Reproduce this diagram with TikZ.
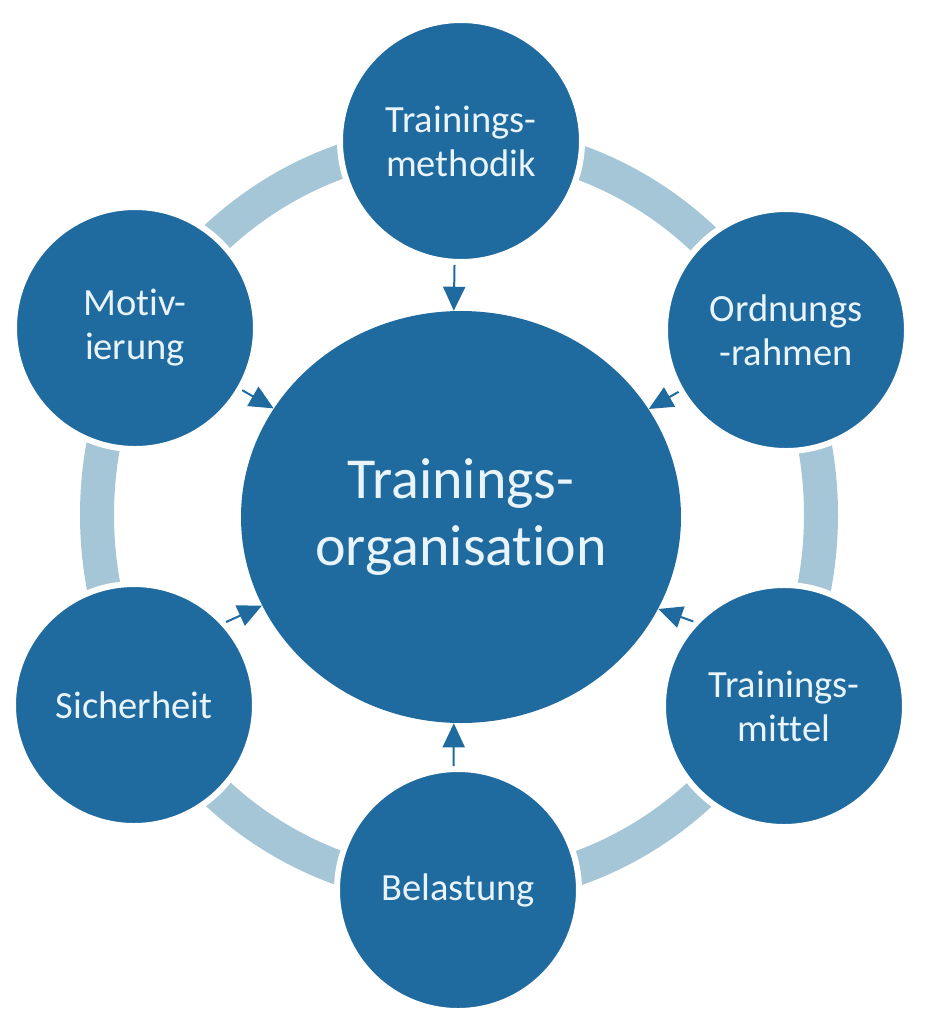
\documentclass[tikz,border=0pt]{standalone}
\usepackage{fontspec}
\setmainfont{Carlito}[Ligatures = NoCommon]
\usetikzlibrary{shapes.geometric, arrows.meta}
\definecolor{darkblue}{RGB}{31,106,158}
\definecolor{bandblue}{RGB}{164,198,214}
\definecolor{lighttext}{RGB}{232,244,249}
\tikzstyle{satellite} = [circle, fill = darkblue, draw = white, line width = 3pt, minimum size = 121pt, inner sep = 0pt, align = center, text = lighttext, font = \fontsize{19.25}{22}\selectfont]
\tikzstyle{hub} = [ellipse, fill = darkblue, minimum width = 220pt, minimum height = 206pt, inner sep = 0pt, align = center, text = lighttext, font = \fontsize{29}{33.5}\selectfont]
\tikzstyle{link} = [-{Triangle[length = 12pt, width = 11pt]}, draw = darkblue, line width = 1pt]

\begin{document}
\begin{tikzpicture}[x = 0.5pt, y = -0.5pt]
  \fill[white] (0, 0) rectangle (933, 1024);
  \useasboundingbox (0, 0) rectangle (933, 1024);
  \draw[bandblue, line width = 17pt] (459, 515) ellipse [x radius = 181pt, y radius = 187pt];
  \foreach \n/\x/\y/\t in {meth/461/141/{Trainings-\\methodik}, ordn/786/330/{Ordnungs\\-rahmen}, mittel/784/706/{Trainings-\\mittel}, bel/458/890/{Belastung}, sich/134/705/{Sicherheit}, mot/135/328/{Motiv-\\ierung}} {
    \node[satellite] (\n) at (\x, \y) {\t};
  }
  \node[hub] (orga) at (461, 517) {Trainings-\\organisation};
  \foreach \a/\b in {meth.267/orga.92, ordn/orga, mot/orga, sich.42/orga.204, mittel.137/orga.335, bel.92/orga.268} {
    \draw[link] (\a) -- (\b);
  }
\end{tikzpicture}
\end{document}
